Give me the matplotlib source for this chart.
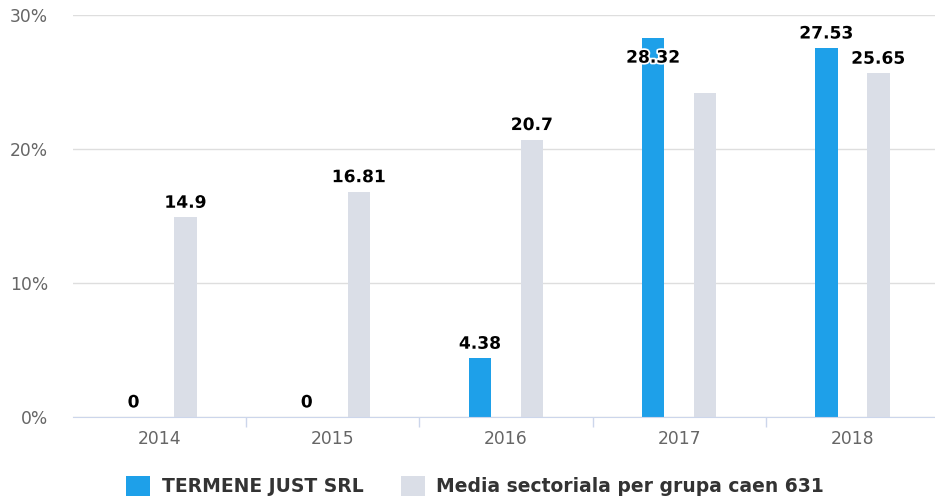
import matplotlib
matplotlib.use("Agg")
import matplotlib.pyplot as plt
import matplotlib.patheffects as pe
from matplotlib.patches import Patch
import numpy as np

categories = ["2014", "2015", "2016", "2017", "2018"]
company = [0, 0, 4.38, 28.32, 27.53]
company_labels = ["0", "0", "4.38", "28.32", "27.53"]
sector = [14.9, 16.81, 20.7, 24.2, 25.65]
sector_labels = ["14.9", "16.81", "20.7", None, "25.65"]
series_names = ["TERMENE JUST SRL", "Media sectoriala per grupa caen 631"]
yticks = [0, 10, 20, 30]
ytick_labels = ["0%", "10%", "20%", "30%"]

blue = "#1ea0e9"
grey = "#dadee7"

fig = plt.figure(figsize=(9.35, 4.96), dpi=100)
ax = fig.add_axes([73 / 935, 79 / 496, 866 / 935, 402 / 496])

x = np.arange(len(categories))
off = 0.15
w = 0.13
ax.bar(x - off, company, w, color=blue, zorder=3)
ax.bar(x + off, sector, w, color=grey, zorder=3)

ax.set_ylim(0, 30)
ax.set_xlim(-0.5, len(categories) - 0.5)
ax.set_yticks(yticks)
ax.set_yticklabels(ytick_labels)
ax.grid(axis="y", color="#dedede", linewidth=1, zorder=0)
ax.set_xticks(x)
ax.set_xticklabels(categories)
ax.set_xticks(np.arange(len(categories) - 1) + 0.5, minor=True)
ax.tick_params(axis="x", which="major", length=0, pad=9, labelsize=12.3, labelcolor="#666666")
ax.tick_params(axis="x", which="minor", length=7, color="#ccd6eb", width=1)
ax.tick_params(axis="y", length=0, pad=18, labelsize=12.3, labelcolor="#666666")
for s in ["top", "right", "left"]:
    ax.spines[s].set_visible(False)
ax.spines["bottom"].set_color("#ccd6eb")
ax.spines["bottom"].set_zorder(4)

stroke = [pe.withStroke(linewidth=2.5, foreground="white")]

def label(xpos, val, txt):
    if txt is None:
        return
    dy = 10.5
    if val > 27.8:
        dy = -14.5
    ax.annotate(txt, (xpos, val), xytext=(0, dy), textcoords="offset points",
                ha="center", va="center", fontsize=12.3, fontweight="bold",
                color="#000000", path_effects=stroke, zorder=5, annotation_clip=False)

for i in range(len(categories)):
    label(x[i] - off, company[i], company_labels[i])
    label(x[i] + off, sector[i], sector_labels[i])

handles = [Patch(facecolor=blue, edgecolor="none"), Patch(facecolor=grey, edgecolor="none")]
leg = fig.legend(handles, series_names, loc="center", bbox_to_anchor=(475 / 935, 1 - 486 / 496),
                 ncol=2, frameon=False, handlelength=1.3, handleheight=1.3, handletextpad=0.6,
                 columnspacing=2.0, prop={"weight": "bold", "size": 13.5})
for t in leg.get_texts():
    t.set_color("#333333")

fig.savefig("out.png", dpi=100)
